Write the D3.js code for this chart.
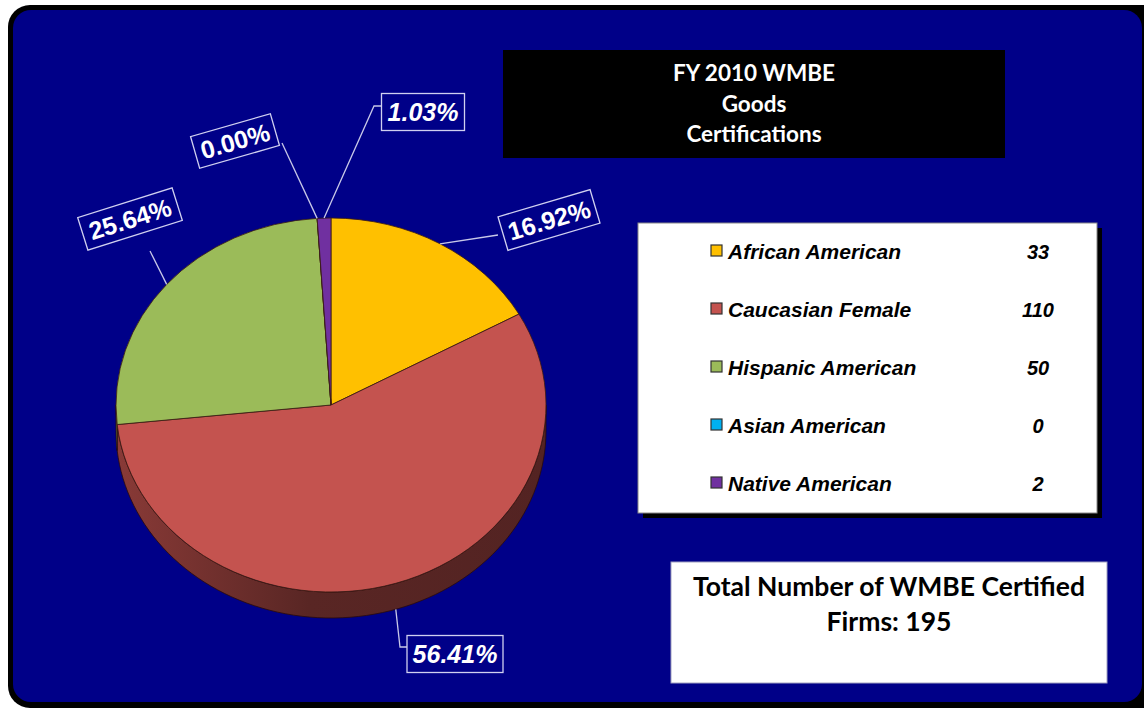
<!DOCTYPE html>
<html><head><meta charset="utf-8">
<script src="https://cdn.jsdelivr.net/npm/d3@7"></script>
<style>html,body{margin:0;padding:0;background:#fff;}svg{display:block;}</style>
</head><body>
<svg id="c" width="1144" height="710"></svg>
<script>
// ---- data ----
const categories = ["African American","Caucasian Female","Hispanic American","Asian American","Native American"];
const counts = [33,110,50,0,2];
const colors = ["#FFC000","#C4534F","#9BBB59","#00B0F0","#7030A0"];
const titleLines = ["FY 2010 WMBE","Goods","Certifications"];
const totalLines = ["Total Number of WMBE Certified","Firms: 195"];

// ---- label layout (positions of the callout boxes) ----
const labelLayout = [
  {cx:549, cy:220, rot:-16.5, italic:false, w:96, h:35, elbow:[[498,235]]},
  {cx:455, cy:654, rot:0, italic:true, w:96, h:37, elbow:[[400,647],[407,647]]},
  {cx:130, cy:219, rot:-17.5, italic:false, w:99, h:34, elbow:[[150,251]]},
  {cx:235, cy:141, rot:-16, italic:false, w:83, h:33, elbow:[[282,143]]},
  {cx:423, cy:112, rot:0, italic:true, w:83, h:37, elbow:[[374,106],[382,106]]}
];

const svg = d3.select("#c");
const defs = svg.append("defs");

// frame
svg.append("rect").attr("x",8).attr("y",5).attr("width",1160).attr("height",703).attr("rx",22).attr("fill","#000");
svg.append("rect").attr("x",13).attr("y",10).attr("width",1129).attr("height",692).attr("rx",18).attr("fill","#000088");

// pie geometry
const cx = 331, cy = 405, rx = 215, ry = 187, depth = 26;
const total = d3.sum(counts);
const arcs = d3.pie().sort(null).value(d=>d)(counts);
const pt = (a, dy=0) => [cx + rx*Math.sin(a), cy - ry*Math.cos(a) + dy];

// sides
const sideG = svg.append("g");
arcs.forEach((a,i)=>{
  const s = Math.max(a.startAngle, Math.PI/2), e = Math.min(a.endAngle, 3*Math.PI/2);
  if (e <= s) return;
  const gid = "sg"+i;
  const base = d3.color(colors[i]);
  const lg = defs.append("linearGradient").attr("id",gid).attr("gradientUnits","userSpaceOnUse")
    .attr("x1",cx-rx).attr("x2",cx+rx).attr("y1",0).attr("y2",0);
  lg.append("stop").attr("offset","0%").attr("stop-color",base.darker(1.0));
  lg.append("stop").attr("offset","45%").attr("stop-color",base.darker(2.2));
  lg.append("stop").attr("offset","100%").attr("stop-color",base.darker(2.4));
  const n = 80, top = [], bot = [];
  for (let k=0;k<=n;k++){ const t = s + (e-s)*k/n; top.push(pt(t)); bot.push(pt(t,depth)); }
  const pts = top.concat(bot.reverse());
  sideG.append("path").attr("d", d3.line()(pts)+"Z").attr("fill","url(#"+gid+")")
    .attr("stroke","#2a0a0a").attr("stroke-width",0.8);
});

// top faces
const topG = svg.append("g").attr("transform",`translate(${cx},${cy}) scale(1,${ry/rx})`);
const arcGen = d3.arc().innerRadius(0).outerRadius(rx);
topG.selectAll("path").data(arcs).join("path")
  .attr("d", arcGen).attr("fill",(d,i)=>colors[i])
  .attr("stroke","#3a1a10").attr("stroke-width",0.8).attr("vector-effect","non-scaling-stroke");

// labels
const fmt = v => (v/total*100).toFixed(2)+"%";
arcs.forEach((a,i)=>{
  const L = labelLayout[i];
  const mid = (a.startAngle + a.endAngle)/2;
  const onSide = mid > Math.PI/2 && mid < 3*Math.PI/2;
  const anchor = pt(mid, onSide ? depth : 0);
  const linePts = [anchor].concat(L.elbow);
  svg.append("path").attr("d", d3.line()(linePts)).attr("fill","none")
    .attr("stroke","#C8C8E8").attr("stroke-width",1.3);
  const g = svg.append("g").attr("transform",`translate(${L.cx},${L.cy}) rotate(${L.rot})`);
  g.append("rect").attr("x",-L.w/2).attr("y",-L.h/2).attr("width",L.w).attr("height",L.h)
    .attr("fill","#000088").attr("stroke","#D0D0F0").attr("stroke-width",1.3);
  g.append("text").attr("x",0).attr("y",9).attr("text-anchor","middle")
    .attr("font-family","'Liberation Sans', Arial, sans-serif").attr("font-weight","bold")
    .attr("font-style", L.italic ? "italic" : "normal")
    .attr("font-size",25).attr("fill","#fff").text(fmt(counts[i]));
});

// title box
svg.append("rect").attr("x",503).attr("y",50).attr("width",502).attr("height",108).attr("fill","#000");
svg.append("g").selectAll("text").data(titleLines).join("text")
  .attr("x",754).attr("y",(d,i)=>81+i*30.5).attr("text-anchor","middle")
  .attr("font-family","Lato, 'Open Sans', sans-serif").attr("font-weight","bold")
  .attr("font-size",22.5).attr("fill","#fff").text(d=>d);

// legend box
svg.append("rect").attr("x",643).attr("y",228).attr("width",459).attr("height",290).attr("fill","#000");
svg.append("rect").attr("x",638).attr("y",223).attr("width",459).attr("height",290).attr("fill","#fff")
  .attr("stroke","#888").attr("stroke-width",1);
const ly = d3.scaleBand().domain(categories).range([222,512]);
const lg = svg.append("g").selectAll("g").data(categories).join("g")
  .attr("transform",d=>`translate(0,${ly(d)+ly.bandwidth()/2})`);
lg.append("rect").attr("x",711).attr("y",-6).attr("width",11).attr("height",11)
  .attr("fill",(d,i)=>colors[i]).attr("stroke","#333").attr("stroke-width",1.2);
lg.append("text").attr("x",728).attr("y",7.5)
  .attr("font-family","'Liberation Sans', Arial, sans-serif").attr("font-weight","bold").attr("font-style","italic")
  .attr("font-size",21).attr("fill","#000").text(d=>d);
lg.append("text").attr("x",1038).attr("y",7.5).attr("text-anchor","middle")
  .attr("font-family","'Liberation Sans', Arial, sans-serif").attr("font-weight","bold").attr("font-style","italic")
  .attr("font-size",20).attr("fill","#000").text((d,i)=>counts[i]);

// total box
svg.append("rect").attr("x",671).attr("y",562).attr("width",436).attr("height",121).attr("fill","#fff")
  .attr("stroke","#A0A0C0").attr("stroke-width",1);
svg.append("g").selectAll("text").data(totalLines).join("text")
  .attr("x",889).attr("y",(d,i)=>596+i*35).attr("text-anchor","middle")
  .attr("font-family","Lato, 'Open Sans', sans-serif").attr("font-weight","bold")
  .attr("font-size",26.5).attr("fill","#000").text(d=>d);
</script>
</body></html>
